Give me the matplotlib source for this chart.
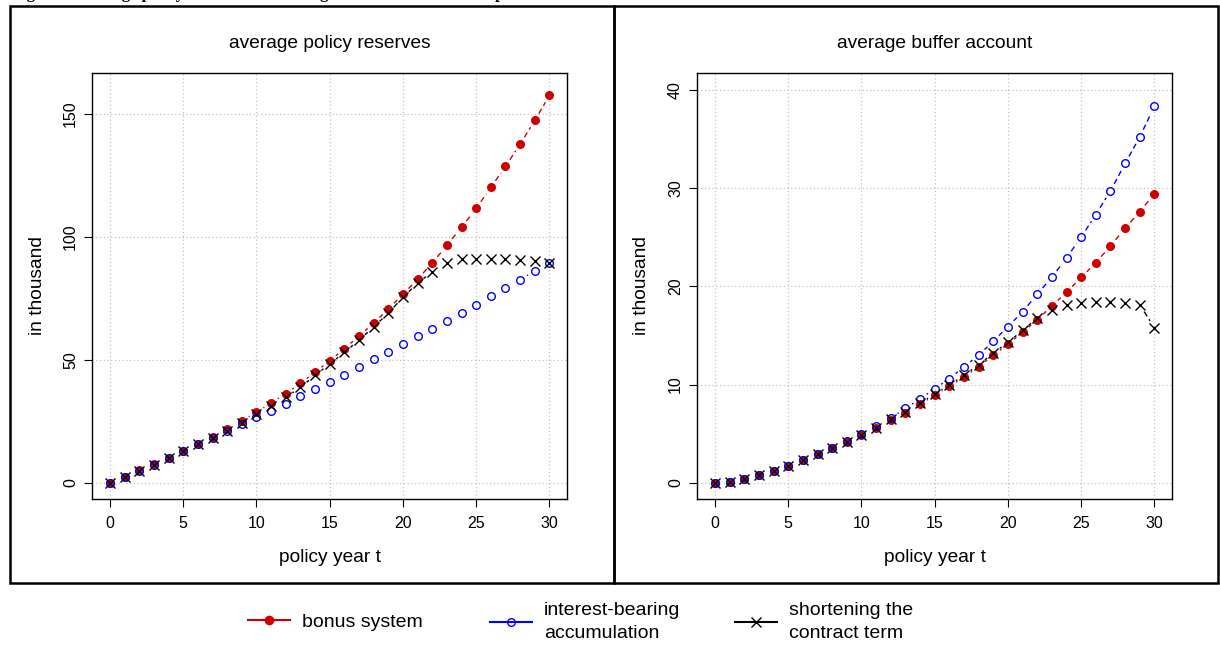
import matplotlib
matplotlib.use("Agg")
import matplotlib.pyplot as plt
import numpy as np
from matplotlib.collections import LineCollection
from matplotlib.lines import Line2D
from matplotlib.patches import Rectangle

plt.rcParams['font.family'] = ['Liberation Sans', 'DejaVu Sans']

years = np.arange(31)

# left panel: average policy reserves (in thousand)
reserves_bonus = [0, 2.4, 5.1, 7.6, 10.2, 13.0, 15.9, 18.7, 21.9, 25.3, 28.9, 32.5, 36.3, 40.5, 45.1,
                  49.7, 54.6, 59.8, 65.0, 70.8, 76.7, 82.9, 89.4, 96.7, 103.9, 111.7, 120.2, 128.7,
                  137.8, 147.4, 157.6]
reserves_interest = [0, 2.4, 5.0, 7.5, 10.1, 12.9, 15.7, 18.4, 21.2, 24.0, 26.7, 29.4, 32.1, 35.2, 38.1,
                     41.2, 44.0, 47.2, 50.3, 53.4, 56.5, 59.6, 62.7, 66.0, 69.2, 72.5, 75.9, 79.3,
                     82.6, 86.3, 89.4]
reserves_shorten = [0, 2.4, 5.0, 7.5, 10.1, 12.9, 15.7, 18.5, 21.3, 24.6, 28.0, 31.3, 34.8, 38.9, 43.8,
                    48.4, 53.1, 58.1, 63.5, 69.0, 75.6, 81.2, 85.9, 89.3, 90.9, 91.2, 91.2, 90.9,
                    90.6, 90.1, 89.4]

# right panel: average buffer account (in thousand)
buffer_bonus = [0, 0.13, 0.34, 0.75, 1.15, 1.7, 2.27, 2.88, 3.5, 4.14, 4.85, 5.53, 6.34, 7.12, 7.97,
                8.92, 9.8, 10.8, 11.8, 13.0, 14.1, 15.3, 16.6, 18.0, 19.4, 20.9, 22.4, 24.1,
                25.9, 27.6, 29.4]
buffer_interest = [0, 0.13, 0.35, 0.76, 1.17, 1.72, 2.3, 2.92, 3.55, 4.22, 4.95, 5.8, 6.6, 7.56, 8.55,
                   9.56, 10.6, 11.8, 13.0, 14.4, 15.9, 17.4, 19.2, 20.9, 22.9, 25.0, 27.3, 29.7,
                   32.5, 35.2, 38.3]
buffer_shorten = [0, 0.13, 0.35, 0.76, 1.17, 1.72, 2.3, 2.92, 3.55, 4.2, 4.9, 5.6, 6.45, 7.25, 8.1,
                  9.05, 9.95, 10.95, 12.0, 13.2, 14.3, 15.5, 16.75, 17.6, 18.1, 18.3, 18.4, 18.4,
                  18.3, 18.1, 15.8]

series_names = ["bonus system", "interest-bearing\naccumulation", "shortening the\ncontract term"]
W, H = 1220, 646
RED, BLUE = '#d00000', '#0000ff'


def plot_b(ax, x, y, color, gap=8, **mk):
    # R style type="b": dashed pieces between points, with a gap around each point
    pts = ax.transData.transform(np.column_stack([x, y]))
    inv = ax.transData.inverted()
    segs = []
    for p0, p1 in zip(pts[:-1], pts[1:]):
        d = p1 - p0
        L = np.hypot(d[0], d[1])
        if L > 2 * gap + 1:
            u = d / L
            segs.append(inv.transform(np.array([p0 + u * gap, p1 - u * gap])))
    lc = LineCollection(segs, colors=color, linewidths=1.0, linestyles=[(0, (4, 2.5))], zorder=3)
    ax.add_collection(lc, autolim=False)
    ax.plot(x, y, linestyle='none', color=color, zorder=4, **mk)


fig = plt.figure(figsize=(W / 100, H / 100), dpi=100)

# outer frames of the two panels
for x0, x1 in [(10, 614), (614, 1218)]:
    fig.add_artist(Rectangle((x0 / W, 1 - 583 / H), (x1 - x0) / W, (583 - 6) / H,
                             transform=fig.transFigure, fill=False, lw=1.8, edgecolor='black'))

panels = [
    (92, "average policy reserves", (-6.5, 166.7), [0, 50, 100, 150],
     reserves_bonus, reserves_interest, reserves_shorten),
    (697, "average buffer account", (-1.65, 41.7), [0, 10, 20, 30, 40],
     buffer_bonus, buffer_interest, buffer_shorten),
]

for left, title, ylim, yticks, s_bonus, s_int, s_short in panels:
    ax = fig.add_axes([left / W, 1 - 499 / H, 475 / W, 426 / H])
    ax.set_xlim(-1.23, 31.2)
    ax.set_ylim(*ylim)
    ax.set_xticks([0, 5, 10, 15, 20, 25, 30])
    ax.set_yticks(yticks)
    ax.set_yticklabels([str(v) for v in yticks], rotation=90, va='center')
    ax.tick_params(direction='out', length=6, width=0.8, labelsize=11.5, colors='black')
    ax.tick_params(axis='x', pad=6)
    ax.tick_params(axis='y', pad=4)
    ax.grid(True, color='#c4c4c4', linestyle=(0, (1, 2)), linewidth=0.9)
    ax.set_axisbelow(True)
    for sp in ax.spines.values():
        sp.set_linewidth(1.0)

    plot_b(ax, years, s_bonus, RED, marker='o', markersize=6.5, markeredgewidth=0)
    plot_b(ax, years, s_int, BLUE, marker='o', markersize=5.5, markerfacecolor='none',
           markeredgewidth=1.0)
    plot_b(ax, years, s_short, 'black', marker='x', markersize=6.5, markeredgewidth=1.0)

    ax.text(0.5, 1 + 30 / 426, title, transform=ax.transAxes, ha='center', va='center', fontsize=13.8)
    ax.text(0.5, -58 / 426, "policy year t", transform=ax.transAxes, ha='center', va='center',
            fontsize=13.8)
    ax.text(-55 / 475, 0.5, "in thousand", transform=ax.transAxes, ha='center', va='center',
            rotation=90, fontsize=13.8)

# legend below the panels
handles = [
    Line2D([], [], color=RED, marker='o', markersize=7, markeredgewidth=0),
    Line2D([], [], color=BLUE, marker='o', markersize=5.5, markerfacecolor='none', markeredgewidth=1),
    Line2D([], [], color='black', marker='x', markersize=7, markeredgewidth=1),
]
for h, name, hx in zip(handles, series_names, [248, 490, 735]):
    leg = fig.legend([h], [name], loc='center left', bbox_to_anchor=(hx / W, 1 - 622 / H), frameon=False,
                     fontsize=14, handlelength=2.15, handletextpad=0.62, borderpad=0, borderaxespad=0)
    for t in leg.get_texts():
        t.set_linespacing(1.4)

# caption of the page, cut off at the top edge
fig.text(12 / W, 1 + 2 / H, "Figure 4: Average policy reserves and average buffer account in comparison",
         family=['Liberation Serif', 'DejaVu Serif'], fontweight='bold', fontsize=12, va='baseline')

fig.savefig("out.png", dpi=100)
